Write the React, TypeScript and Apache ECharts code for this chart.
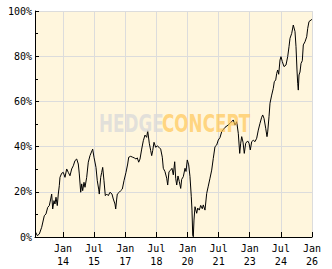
import React, { useEffect, useRef } from 'react';
import * as echarts from 'echarts';

// Decimal years of the sampled points
const years = [
  2012.684, 2012.761, 2012.858, 2012.973, 2013.099, 2013.181, 2013.263, 2013.340, 2013.407, 2013.455,
  2013.504, 2013.566, 2013.614, 2013.663, 2013.725, 2013.773, 2013.822, 2013.855, 2013.937, 2014.014,
  2014.096, 2014.178, 2014.255, 2014.337, 2014.419, 2014.496, 2014.578, 2014.660, 2014.737, 2014.786,
  2014.853, 2014.901, 2014.949, 2015.012, 2015.060, 2015.142, 2015.219, 2015.301, 2015.398, 2015.431,
  2015.494, 2015.590, 2015.653, 2015.720, 2015.749, 2015.817, 2015.865, 2015.913, 2015.976, 2016.039,
  2016.106, 2016.183, 2016.265, 2016.361, 2016.424, 2016.506, 2016.540, 2016.588, 2016.617, 2016.713,
  2016.781, 2016.858, 2016.940, 2017.036, 2017.118, 2017.166, 2017.263, 2017.359, 2017.436, 2017.518,
  2017.581, 2017.648, 2017.711, 2017.793, 2017.870, 2017.952, 2018.034, 2018.082, 2018.159, 2018.227,
  2018.275, 2018.323, 2018.386, 2018.467, 2018.545, 2018.627, 2018.708, 2018.786, 2018.834, 2018.916,
  2018.998, 2019.046, 2019.108, 2019.181, 2019.253, 2019.316, 2019.383, 2019.431, 2019.480, 2019.542,
  2019.605, 2019.672, 2019.720, 2019.798, 2019.880, 2019.928, 2019.990, 2020.058, 2020.120, 2020.183,
  2020.217, 2020.251, 2020.280, 2020.313, 2020.361, 2020.443, 2020.492, 2020.569, 2020.636, 2020.713,
  2020.761, 2020.843, 2020.925, 2021.002, 2021.084, 2021.166, 2021.243, 2021.325, 2021.407, 2021.484,
  2021.566, 2021.648, 2021.807, 2021.952, 2022.048, 2022.207, 2022.289, 2022.371, 2022.448, 2022.516,
  2022.564, 2022.612, 2022.675, 2022.737, 2022.805, 2022.901, 2022.964, 2023.027, 2023.094, 2023.171,
  2023.253, 2023.335, 2023.412, 2023.494, 2023.576, 2023.624, 2023.687, 2023.769, 2023.831, 2023.865,
  2023.928, 2023.976, 2024.058, 2024.135, 2024.183, 2024.251, 2024.299, 2024.347, 2024.395, 2024.458,
  2024.506, 2024.569, 2024.651, 2024.747, 2024.829, 2024.892, 2024.940, 2025.022, 2025.099, 2025.181,
  2025.229, 2025.277, 2025.311, 2025.340, 2025.373, 2025.422, 2025.470, 2025.533, 2025.581, 2025.663,
  2025.745, 2025.793, 2025.855, 2025.952, 2025.995,
];

// Performance in percent
const values = [
  2.1, 0.6, 1.3, 4.3, 9.4, 10.2, 13.1, 13.9, 16.8, 19.0,
  12.4, 16.1, 14.6, 17.6, 13.9, 19.0, 22.7, 26.4, 28.2, 28.6,
  26.4, 30.1, 28.6, 27.1, 30.1, 31.5, 33.8, 34.5, 32.3, 27.9,
  19.8, 23.5, 20.5, 24.2, 22.0, 26.4, 33.1, 36.0, 38.2, 38.9,
  35.3, 30.8, 24.9, 21.2, 19.0, 26.4, 28.6, 30.8, 24.9, 18.3,
  19.0, 18.3, 19.8, 19.0, 16.8, 14.6, 12.4, 16.8, 19.0, 19.8,
  20.5, 21.2, 24.9, 28.6, 32.3, 35.3, 35.7, 35.3, 35.0, 34.5,
  35.0, 33.1, 34.5, 38.9, 42.6, 45.1, 44.1, 47.0, 41.5, 38.2,
  36.0, 38.2, 41.9, 39.7, 40.3, 39.7, 38.9, 35.3, 30.4, 28.9,
  26.0, 23.0, 28.9, 29.5, 30.4, 27.5, 33.3, 26.0, 23.0, 27.0,
  24.5, 21.5, 25.5, 26.7, 30.4, 29.0, 34.1, 31.9, 26.7, 17.8,
  11.9, 0.9, 0.1, 7.5, 13.4, 10.5, 12.8, 11.9, 14.0, 12.5,
  14.2, 11.9, 19.3, 22.5, 26.0, 29.6, 34.8, 40.0, 40.7, 42.9,
  44.0, 46.6, 48.5, 49.5, 50.3, 51.8, 49.5, 51.0, 45.9, 37.0,
  41.5, 44.4, 42.0, 37.0, 41.5, 42.5, 41.5, 38.5, 42.2, 42.8,
  42.2, 43.7, 47.3, 50.3, 53.0, 54.0, 52.5, 48.1, 44.4, 46.5,
  53.2, 59.2, 62.8, 65.8, 68.7, 69.5, 72.4, 73.9, 72.0, 78.3,
  79.8, 77.6, 75.4, 76.1, 79.8, 84.2, 87.9, 90.1, 93.8, 90.9,
  84.2, 73.9, 68.0, 65.0, 71.7, 73.0, 76.8, 78.0, 85.0, 86.4,
  88.6, 92.3, 95.3, 96.0, 96.3,
];

// Tick positions as decimal years, with their labels
const xTickYears = [2014.0, 2015.5, 2017.0, 2018.5, 2020.0, 2021.5, 2023.0, 2024.5, 2026.0];
const xTickLabels = ['Jan\n14', 'Jul\n15', 'Jan\n17', 'Jul\n18', 'Jan\n20', 'Jul\n21', 'Jan\n23', 'Jul\n24', 'Jan\n26'];
const axisStartYear = 2012.651;
const axisEndYear = 2026.0;
const watermarkWords = ['HEDGE', 'CONCEPT'];

// x axis unit: months since Jan 2014
const baseYear = 2014;
const toMonths = (y: number) => Math.round((y - baseYear) * 12 * 1000) / 1000;

export default function App() {
  const ref = useRef<HTMLDivElement>(null);
  useEffect(() => {
    if (!ref.current) return;
    const chart = echarts.init(ref.current, null, { renderer: 'svg' });
    const tickM = xTickYears.map(toMonths);
    const labelFont = { color: '#000', fontFamily: 'DejaVu Sans Mono', fontSize: 10 };
    const option = {
      animation: false,
      backgroundColor: '#ffffff',
      grid: {
        left: 35, right: 20, top: 11, bottom: 32,
        show: true, backgroundColor: '#FFF6DD', borderWidth: 0,
      },
      xAxis: {
        type: 'value',
        min: toMonths(axisStartYear),
        max: toMonths(axisEndYear),
        axisLine: { show: true, onZero: false, lineStyle: { color: '#000', width: 1 } },
        axisTick: { show: true, inside: true, length: 5, lineStyle: { color: '#000', width: 1 }, customValues: tickM },
        axisLabel: {
          ...labelFont,
          customValues: tickM,
          lineHeight: 13,
          margin: 5,
          formatter: (v: number) => {
            const i = tickM.findIndex((t) => Math.abs(t - v) < 0.5);
            return i >= 0 ? xTickLabels[i] : '';
          },
        },
        splitLine: { show: true, lineStyle: { color: '#DCDCDC', width: 1 } },
      },
      yAxis: {
        type: 'value',
        min: 0,
        max: 100,
        interval: 20,
        axisLine: { show: true, onZero: false, lineStyle: { color: '#000', width: 1 } },
        axisTick: { show: true, inside: true, length: 4, lineStyle: { color: '#000', width: 1 } },
        minorTick: { show: true, splitNumber: 2, length: 3, lineStyle: { color: '#000', width: 1 } },
        axisLabel: { ...labelFont, formatter: '{value}%', margin: 3 },
        splitLine: { show: true, lineStyle: { color: '#DCDCDC', width: 1 } },
      },
      series: [
        {
          type: 'line',
          data: years.map((y, i) => [toMonths(y), values[i]]),
          showSymbol: false,
          symbol: 'none',
          lineStyle: { color: '#000', width: 1 },
          z: 2,
        },
      ],
      graphic: [
        {
          type: 'text', x: 99, y: 124, scaleX: 0.7, z: 100,
          style: {
            text: watermarkWords[0], fill: 'rgba(218,218,218,0.78)',
            fontFamily: 'DejaVu Sans', fontWeight: 'bold', fontSize: 24,
            verticalAlign: 'middle', align: 'left',
          },
        },
        {
          type: 'text', x: 162, y: 124, scaleX: 0.7, z: 100,
          style: {
            text: watermarkWords[1], fill: 'rgba(255,196,80,0.68)',
            fontFamily: 'DejaVu Sans', fontWeight: 'bold', fontSize: 24,
            verticalAlign: 'middle', align: 'left',
          },
        },
      ],
    };
    chart.setOption(option as any);
    return () => chart.dispose();
  }, []);
  return (
    <div
      ref={ref}
      style={{ position: 'absolute', left: 0, top: 0, width: 332, height: 269, background: '#fff' }}
    />
  );
}
